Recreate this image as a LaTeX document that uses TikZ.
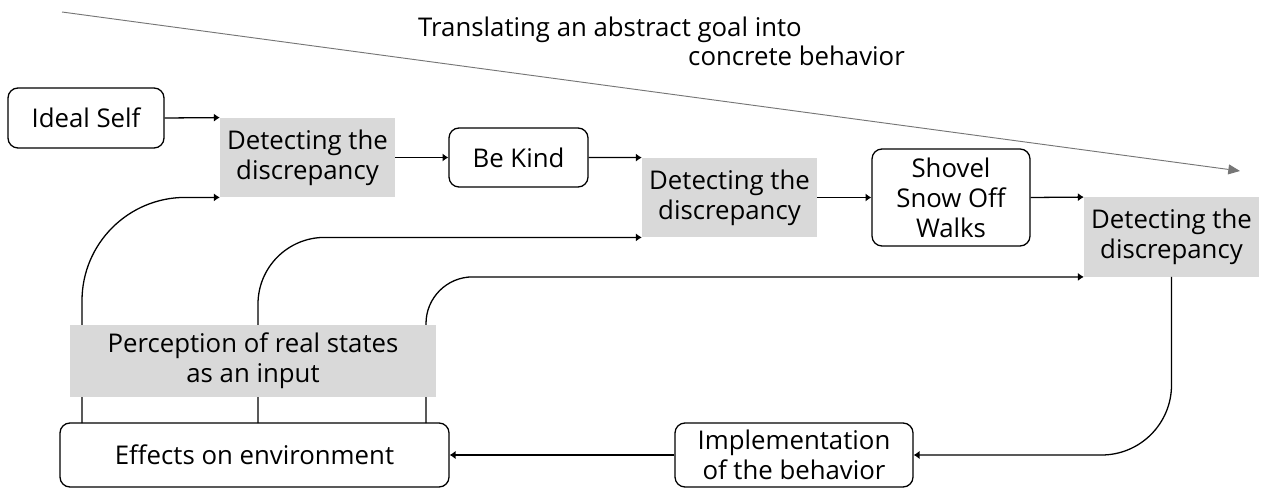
\documentclass[tikz,border=0pt]{standalone}
\usepackage{fontspec}
\setmainfont{Open Sans}
\usetikzlibrary{arrows.meta}

\definecolor{boxgray}{RGB}{217,217,217}
\definecolor{linegray}{RGB}{118,118,118}

\tikzset{
  roundbox/.style={draw, line width=1.1pt, rounded corners=0.3cm, align=center, inner sep=0pt},
  graybox/.style={fill=boxgray, align=center, inner sep=0pt},
  detbox/.style={graybox, minimum width=5.25cm, minimum height=2.38cm},
  arr/.style={line width=1.1pt, -{Latex[length=5pt,width=7pt]}},
}

\begin{document}
\begin{tikzpicture}[x=0.03cm, y=-0.03cm, font=\fontsize{22pt}{25.5pt}\selectfont]

    \useasboundingbox (0,0) rectangle (1267,489);

    % 标题和灰色箭头
    \coordinate (gstart) at (62,12);
    \coordinate (gend) at (1240,171);
    \draw[linegray, line width=0.8pt, -{Triangle[length=10pt,width=8.5pt]}] (gstart) -- (gend);
    \node[anchor=base west, inner sep=0pt] (title1) at (418,37) {Translating an abstract goal into};
    \node[anchor=base west, inner sep=0pt] (title2) at (688,66) {concrete behavior};

    % 上面一排
    \node[roundbox, minimum width=4.68cm, minimum height=1.8cm] (ideal) at (86,118) {Ideal Self};
    \node[detbox] (det1) at (307.5,157.5) {Detecting the\\discrepancy};
    \node[roundbox, minimum width=4.17cm, minimum height=1.77cm] (kind) at (518.5,157.5) {Be Kind};
    \node[detbox] (det2) at (729.5,197.5) {Detecting the\\discrepancy};
    \node[roundbox, minimum width=4.74cm, minimum height=2.91cm] (shovel) at (951,197.5) {Shovel\\Snow Off\\Walks};
    \node[detbox] (det3) at (1171.5,237) {Detecting the\\discrepancy};

    % 下面一排
    \node[roundbox, minimum width=11.67cm, minimum height=1.92cm] (effects) at (254.5,455) {Effects on environment};
    \node[roundbox, minimum width=7.14cm, minimum height=1.92cm] (impl) at (794,455) {Implementation\\of the behavior};

    % 箭头
    \draw[arr] (ideal.east) -- (det1.north west);
    \draw[arr] (det1) -- (kind);
    \draw[arr] (kind.east) -- (det2.north west);
    \draw[arr] (det2) -- (shovel);
    \draw[arr] (shovel.east) -- (det3.north west);
    \draw[arr, rounded corners=2.1cm] (det3.south) |- (impl.east);
    \draw[arr] (impl) -- (effects);

    % 反馈回路
    \coordinate (inA) at (82,423);
    \coordinate (inB) at (258,423);
    \coordinate (inC) at (426,423);
    \draw[arr, rounded corners=3.1cm] (inA) |- (det1.south west);
    \draw[arr, rounded corners=2cm] (inB) |- (det2.south west);
    \draw[arr, rounded corners=1.4cm] (inC) |- (det3.south west);

    % 盖住线的灰框
    \node[graybox, minimum width=10.98cm, minimum height=2.16cm] (perc) at (253,361) {Perception of real states\\as an input};

  \end{tikzpicture}
\end{document}
